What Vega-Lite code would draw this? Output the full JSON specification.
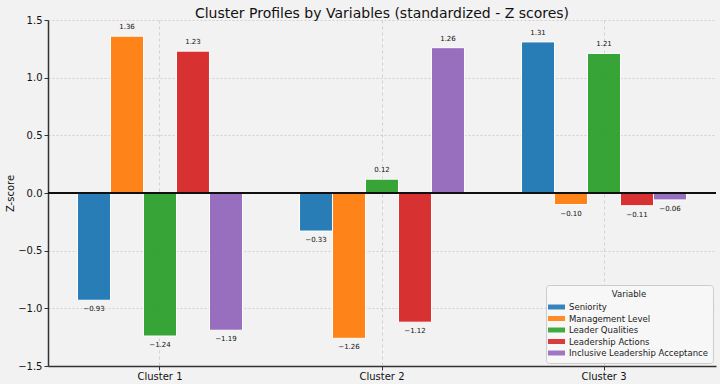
{
  "$schema": "https://vega.github.io/schema/vega-lite/v6.json",
  "autosize": {"type": "none"},
  "width": 668,
  "height": 346,
  "padding": {"left": 48, "top": 20, "right": 4, "bottom": 18},
  "background": "#f2f2f2",
  "config": {
    "font": "DejaVu Sans",
    "view": {"stroke": null, "fill": "#f2f2f2"}
  },
  "title": {
    "text": "Cluster Profiles by Variables (standardized - Z scores)",
    "fontSize": 14,
    "fontWeight": "normal",
    "font": "DejaVu Sans",
    "color": "#111",
    "offset": -6,
    "anchor": "middle"
  },
  "data": {
    "values": [
      {"cluster": "Cluster 1", "variable": "Seniority", "z": -0.93},
      {"cluster": "Cluster 1", "variable": "Management Level", "z": 1.36},
      {"cluster": "Cluster 1", "variable": "Leader Qualities", "z": -1.24},
      {"cluster": "Cluster 1", "variable": "Leadership Actions", "z": 1.23},
      {"cluster": "Cluster 1", "variable": "Inclusive Leadership Acceptance", "z": -1.19},
      {"cluster": "Cluster 2", "variable": "Seniority", "z": -0.33},
      {"cluster": "Cluster 2", "variable": "Management Level", "z": -1.26},
      {"cluster": "Cluster 2", "variable": "Leader Qualities", "z": 0.12},
      {"cluster": "Cluster 2", "variable": "Leadership Actions", "z": -1.12},
      {"cluster": "Cluster 2", "variable": "Inclusive Leadership Acceptance", "z": 1.26},
      {"cluster": "Cluster 3", "variable": "Seniority", "z": 1.31},
      {"cluster": "Cluster 3", "variable": "Management Level", "z": -0.10},
      {"cluster": "Cluster 3", "variable": "Leader Qualities", "z": 1.21},
      {"cluster": "Cluster 3", "variable": "Leadership Actions", "z": -0.11},
      {"cluster": "Cluster 3", "variable": "Inclusive Leadership Acceptance", "z": -0.06}
    ]
  },
  "encoding": {
    "x": {
      "field": "cluster",
      "type": "nominal",
      "scale": {"paddingInner": 0.257, "paddingOuter": 0.133},
      "axis": {
        "title": null,
        "labelAngle": 0,
        "labelFontSize": 10,
        "labelColor": "#111",
        "labelPadding": 1,
        "tickSize": 4,
        "tickColor": "#333",
        "domainColor": "#333",
        "domainWidth": 1.5,
        "grid": true,
        "bandPosition": 0.5,
        "gridColor": "#c8c8c8",
        "gridDash": [3, 3],
        "gridWidth": 0.8
      }
    },
    "xOffset": {
      "field": "variable",
      "type": "nominal",
      "sort": ["Seniority", "Management Level", "Leader Qualities", "Leadership Actions", "Inclusive Leadership Acceptance"],
      "scale": {"paddingInner": 0, "paddingOuter": 0}
    },
    "y": {
      "field": "z",
      "type": "quantitative",
      "scale": {"domain": [-1.5, 1.5], "nice": false},
      "axis": {
        "title": "Z-score",
        "titleFontSize": 10,
        "titleFontWeight": "normal",
        "titleColor": "#111",
        "titlePadding": 2,
        "values": [-1.5, -1, -0.5, 0, 0.5, 1, 1.5],
        "format": ".1f",
        "labelFontSize": 10,
        "labelColor": "#111",
        "labelPadding": 2,
        "tickSize": 4,
        "tickColor": "#333",
        "domainColor": "#333",
        "domainWidth": 1.5,
        "grid": true,
        "gridColor": "#c8c8c8",
        "gridDash": [2, 2],
        "gridWidth": 0.8
      }
    }
  },
  "layer": [
    {
      "mark": {"type": "bar", "stroke": "white", "strokeWidth": 1, "opacity": 0.95},
      "encoding": {
        "color": {
          "field": "variable",
          "type": "nominal",
          "sort": ["Seniority", "Management Level", "Leader Qualities", "Leadership Actions", "Inclusive Leadership Acceptance"],
          "scale": {
            "domain": ["Seniority", "Management Level", "Leader Qualities", "Leadership Actions", "Inclusive Leadership Acceptance"],
            "range": ["#1f77b4", "#ff7f0e", "#2ca02c", "#d62728", "#9467bd"]
          },
          "legend": {
            "title": "Variable",
            "orient": "bottom-right",
            "offset": 3,
            "titleAnchor": "middle",
            "titleFontSize": 8.5,
            "titleFontWeight": "normal",
            "titleColor": "#222",
            "titlePadding": 3,
            "labelFontSize": 8.5,
            "labelColor": "#222",
            "labelOffset": 7,
            "symbolType": "M-1.55,-0.45L1.55,-0.45L1.55,0.45L-1.55,0.45Z",
            "symbolSize": 121,
            "symbolStrokeWidth": 0,
            "symbolOpacity": 0.9,
            "rowPadding": 1.5,
            "padding": 5,
            "fillColor": "#f7f7f7",
            "strokeColor": "#cccccc",
            "cornerRadius": 3
          }
        }
      }
    },
    {
      "mark": {"type": "rule", "color": "#111", "strokeWidth": 1.3},
      "encoding": {"y": {"datum": 0}, "x": null, "xOffset": null}
    },
    {
      "transform": [{"filter": "datum.z >= 0"}],
      "mark": {"type": "text", "fontSize": 7, "dy": -9, "baseline": "middle", "color": "#111"},
      "encoding": {"text": {"field": "z", "type": "quantitative", "format": ".2f"}}
    },
    {
      "transform": [{"filter": "datum.z < 0"}],
      "mark": {"type": "text", "fontSize": 7, "dy": 9, "baseline": "middle", "color": "#111"},
      "encoding": {"text": {"field": "z", "type": "quantitative", "format": ".2f"}}
    }
  ]
}
